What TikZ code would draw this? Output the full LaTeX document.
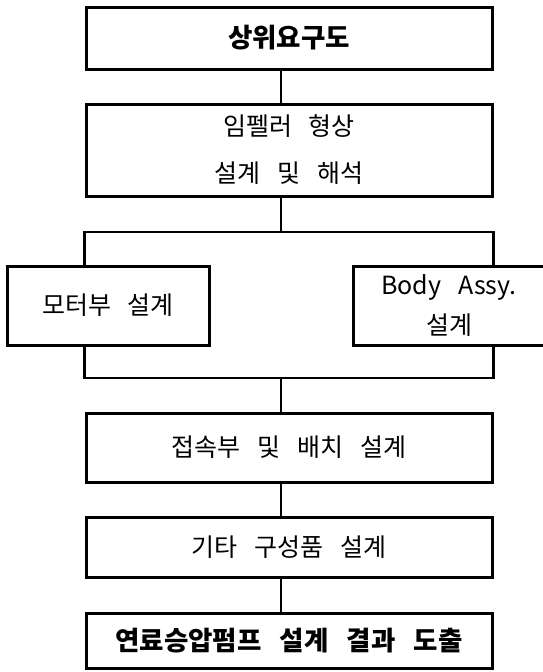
\documentclass[tikz,border=0pt]{standalone}
\usepackage{fontspec}
\setmainfont{Noto Sans CJK KR}[WordSpace=3]
\begin{document}
\begin{tikzpicture}[x=1pt,y=-1pt,
  box/.style={draw, line width=3pt, inner sep=0pt, align=center},
  txt/.style={font=\fontsize{25}{47}\selectfont},
  btxt/.style={font=\fontsize{26.5}{30}\selectfont\bfseries},
  conn/.style={line width=2.6pt}]
\clip (0,0) rectangle (543,672);
\node[box,btxt,minimum width=406pt,minimum height=62pt] (b1) at (289,38) {상위요구도};
\node[box,txt,minimum width=406pt,minimum height=92pt] (b2) at (289,150) {임펠러 형상\\설계 및 해석};
\node[box,txt,font=\fontsize{25}{40}\selectfont,minimum width=202pt,minimum height=79pt] (l) at (108,305.5) {모터부 설계};
\node[box,txt,font=\fontsize{25}{40}\selectfont,minimum width=192pt,minimum height=79pt] (r) at (449,305.5) {Body Assy.\\설계};
\node[box,txt,minimum width=406pt,minimum height=69pt] (b6) at (289,447.5) {접속부 및 배치 설계};
\node[box,txt,minimum width=406pt,minimum height=60pt] (b7) at (289,547) {기타 구성품 설계};
\node[box,btxt,minimum width=406pt,minimum height=55pt] (b8) at (289,640.5) {연료승압펌프 설계 결과 도출};
\coordinate (cx) at (281,0);
\coordinate (jt) at (281,232);
\coordinate (jb) at (281,378);
\draw[conn] (b1.south -| cx) -- (b2.north -| cx);
\draw[conn] (b2.south -| cx) -- (jt);
\draw[conn] (l.north -| b2.west) |- (jt) -| (r.north -| b2.east);
\draw[conn] (l.south -| b2.west) |- (jb) -| (r.south -| b2.east);
\draw[conn] (jb) -- (b6.north -| cx);
\draw[conn] (b6.south -| cx) -- (b7.north -| cx);
\draw[conn] (b7.south -| cx) -- (b8.north -| cx);
\end{tikzpicture}
\end{document}
